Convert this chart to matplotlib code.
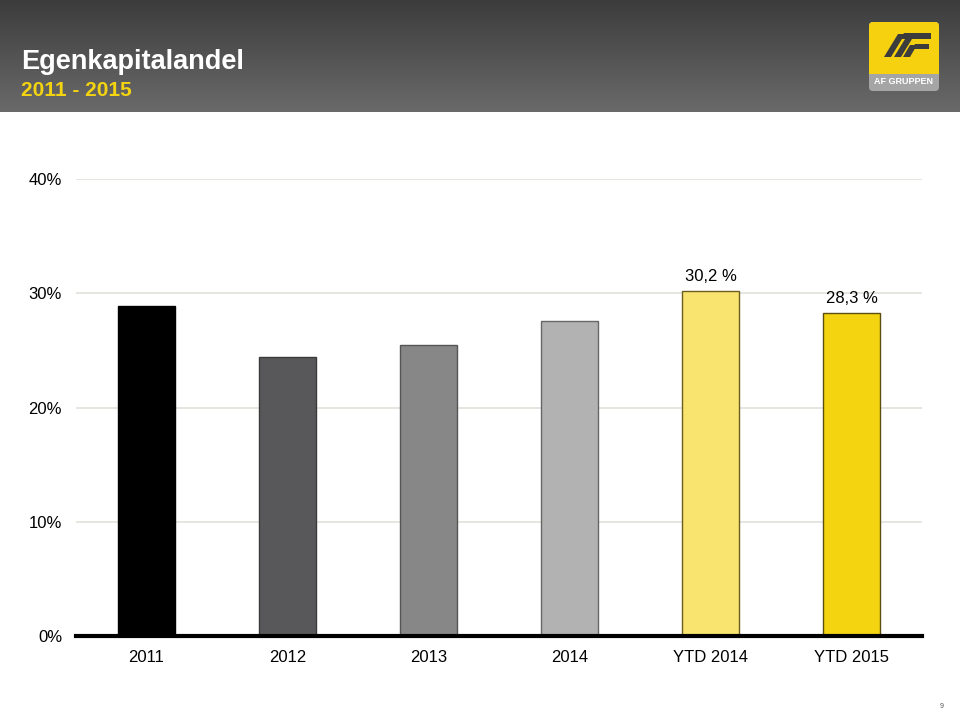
import matplotlib
matplotlib.use("Agg")
import matplotlib.pyplot as plt
import numpy as np
from matplotlib.patches import FancyBboxPatch, Rectangle, Polygon
from matplotlib.colors import LinearSegmentedColormap

plt.rcParams['font.family'] = ['Liberation Sans', 'DejaVu Sans']

categories = ["2011", "2012", "2013", "2014", "YTD 2014", "YTD 2015"]
values = [28.9, 24.4, 25.5, 27.6, 30.2, 28.3]
bar_colors = ["#000000", "#58585a", "#878787", "#b2b2b2", "#f8e46f", "#f4d410"]
edge_colors = ["#000000", "#3a3a3a", "#555555", "#666666", "#6b5e1e", "#5a4e10"]
labels = {4: "30,2 %", 5: "28,3 %"}
yticks = [0, 10, 20, 30, 40]
ytick_labels = ["0%", "10%", "20%", "30%", "40%"]

W, H = 960, 712
fig = plt.figure(figsize=(W / 100, H / 100), dpi=100)

# Header band with gradient
hax = fig.add_axes([0, 1 - 112 / H, 1, 112 / H])
grad = np.linspace(0, 1, 256).reshape(-1, 1)
cmap = LinearSegmentedColormap.from_list("hdr", ["#3c3c3c", "#6a6a6a"])
hax.imshow(grad, aspect='auto', cmap=cmap, extent=[0, W, 112, 0])
hax.set_xlim(0, W)
hax.set_ylim(112, 0)
hax.axis('off')
hax.text(21, 69, "Egenkapitalandel", color="white", fontsize=19.5, fontweight="bold", va="baseline")
hax.text(21, 96, "2011 - 2015", color="#f4d410", fontsize=15, fontweight="bold", va="baseline")

# Logo
hax.add_patch(FancyBboxPatch((869, 22), 70, 69, boxstyle="round,pad=0,rounding_size=4",
                             facecolor="#a5a5a5", edgecolor="none"))
hax.add_patch(FancyBboxPatch((869, 22), 70, 50, boxstyle="round,pad=0,rounding_size=4",
                             facecolor="#f6d10f", edgecolor="none"))
hax.add_patch(Rectangle((869, 64), 70, 10, facecolor="#f6d10f", edgecolor="none"))
dark = "#3c3c3c"
hax.add_patch(Polygon([(884, 57), (891, 57), (905, 34), (898, 34)], closed=True, facecolor=dark, edgecolor="none"))
hax.add_patch(Polygon([(894, 57), (901, 57), (912, 39), (905, 39)], closed=True, facecolor=dark, edgecolor="none"))
hax.add_patch(Polygon([(903, 57), (910, 57), (917, 45), (910, 45)], closed=True, facecolor=dark, edgecolor="none"))
hax.add_patch(Polygon([(900, 39), (904, 33), (931, 33), (931, 39)], closed=True, facecolor=dark, edgecolor="none"))
hax.add_patch(Polygon([(912, 49), (915, 44), (929, 44), (929, 49)], closed=True, facecolor=dark, edgecolor="none"))
hax.text(904, 84, "AF GRUPPEN", color="white", fontsize=6.5, fontweight="bold",
         ha="center", va="baseline")

# Main chart
left, right = 76 / W, 922 / W
bottom, top = 1 - 636 / H, 1 - 179 / H
ax = fig.add_axes([left, bottom, right - left, top - bottom])
x = np.arange(len(categories))
ax.bar(x, values, width=0.40, color=bar_colors, edgecolor=edge_colors, linewidth=1.0, zorder=3)
ax.set_xlim(-0.5, len(categories) - 0.5)
ax.set_ylim(0, 40)
ax.set_yticks(yticks)
ax.set_yticklabels(ytick_labels)
ax.set_xticks(x)
ax.set_xticklabels(categories)
ax.tick_params(axis='both', length=0, labelsize=12, colors="#000000")
ax.tick_params(axis='y', pad=10)
ax.tick_params(axis='x', pad=10)
for yv in yticks[1:]:
    ax.axhline(yv, color="#e2e1dc", linewidth=1.2, zorder=1)
for s in ["top", "right", "left"]:
    ax.spines[s].set_visible(False)
ax.spines["bottom"].set_linewidth(3)
ax.spines["bottom"].set_color("#000000")
ax.spines["bottom"].set_zorder(4)
for i, t in labels.items():
    ax.text(x[i], values[i] + 0.6, t, ha="center", va="bottom", fontsize=12)

fig.text(942 / W, 1 - 708 / H, "9", fontsize=5, color="#555555", ha="center")

fig.savefig("out.png", dpi=100, facecolor="white")
